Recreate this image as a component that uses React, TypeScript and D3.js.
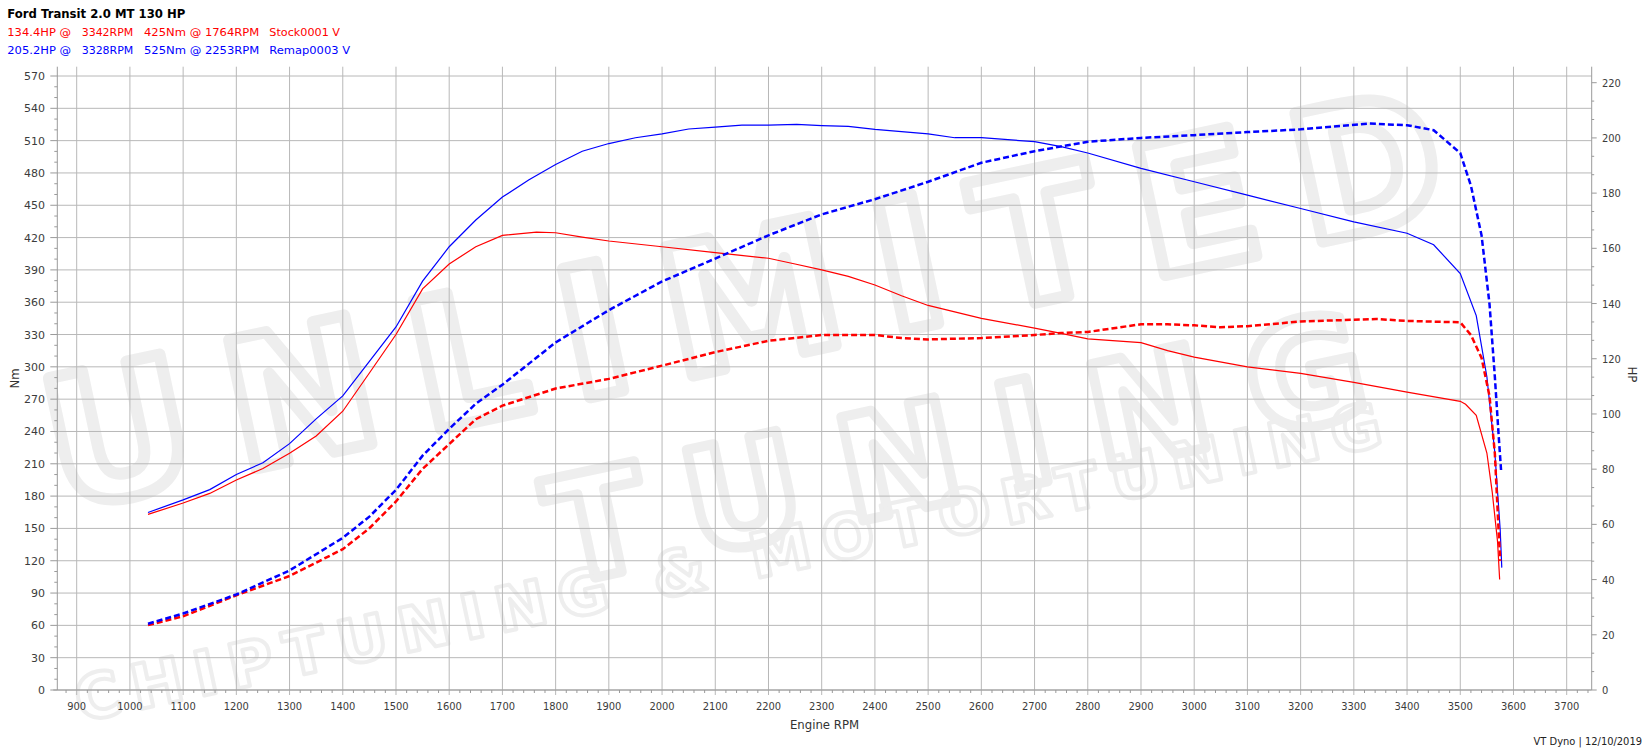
import React from 'react';
import * as d3 from 'd3';

// ---------- text ----------
const titleText = 'Ford Transit 2.0 MT 130 HP';
const stockSummary = ['134.4HP @', '3342RPM', '425Nm @ 1764RPM', 'Stock0001 V'];
const remapSummary = ['205.2HP @', '3328RPM', '525Nm @ 2253RPM', 'Remap0003 V'];
const xAxisTitle = 'Engine RPM';
const yLeftTitle = 'Nm';
const yRightTitle = 'HP';
const footerText = 'VT Dyno | 12/10/2019';
const watermarkLines = ['UNLIMITED', 'TUNING', 'CHIPTUNING & MOTORTUNING'];

// ---------- ticks ----------
const rpmTicks = [900, 1000, 1100, 1200, 1300, 1400, 1500, 1600, 1700, 1800, 1900, 2000, 2100, 2200, 2300, 2400, 2500, 2600, 2700, 2800, 2900, 3000, 3100, 3200, 3300, 3400, 3500, 3600, 3700];
const nmTicks = [0, 30, 60, 90, 120, 150, 180, 210, 240, 270, 300, 330, 360, 390, 420, 450, 480, 510, 540, 570];
const hpTicks = [0, 20, 40, 60, 80, 100, 120, 140, 160, 180, 200, 220];

// ---------- data ----------
const stockTorqueRpm = [1034, 1100, 1150, 1200, 1250, 1300, 1350, 1400, 1450, 1500, 1550, 1600, 1650, 1700, 1764, 1800, 1850, 1900, 2000, 2100, 2200, 2250, 2300, 2350, 2400, 2450, 2500, 2600, 2700, 2750, 2800, 2900, 2950, 3000, 3100, 3200, 3300, 3400, 3500, 3510, 3530, 3550, 3560, 3570, 3574];
const stockTorque = [163, 173.6, 182.5, 195, 205.6, 219.8, 235.8, 258.8, 294.3, 330, 372.4, 395.5, 411.5, 422, 425, 424.5, 420.4, 416.8, 411.5, 406, 400.8, 395.5, 390, 384, 376, 366, 357, 345, 336, 331, 326, 322.5, 315, 309, 300, 294, 285.5, 276.6, 268, 265.2, 255, 220, 184, 138, 102.6];

const stockPowerRpm = [1034, 1100, 1200, 1300, 1400, 1450, 1500, 1550, 1600, 1650, 1700, 1800, 1900, 2000, 2100, 2200, 2300, 2400, 2450, 2500, 2600, 2700, 2750, 2800, 2900, 2950, 3000, 3050, 3100, 3200, 3342, 3400, 3500, 3520, 3540, 3555, 3565, 3572, 3575];
const stockPower = [23.5, 26.7, 34.3, 41.3, 51, 58.6, 68.3, 80.1, 89.1, 98.1, 103, 109.2, 112.7, 117.5, 122.4, 126.5, 128.6, 128.6, 127.5, 127, 127.5, 128.6, 129.3, 129.7, 132.5, 132.5, 132.1, 131.4, 131.8, 133.5, 134.4, 133.7, 133.2, 128.6, 120.3, 106.4, 85.6, 57.9, 46.8];

const remapTorqueRpm = [1034, 1100, 1150, 1200, 1250, 1300, 1350, 1400, 1450, 1500, 1550, 1600, 1650, 1700, 1750, 1800, 1850, 1900, 1950, 2000, 2050, 2100, 2150, 2200, 2253, 2300, 2350, 2400, 2500, 2550, 2600, 2700, 2750, 2800, 2900, 3000, 3100, 3200, 3300, 3400, 3450, 3500, 3530, 3550, 3565, 3575, 3578];
const remapTorque = [164.8, 176.5, 186, 200, 211, 228.7, 251.7, 273, 305, 337, 379.5, 411.5, 436.3, 457.6, 473.6, 487.8, 500.2, 507.3, 512.7, 516.2, 520.8, 522.6, 524.4, 524.4, 525, 524, 523.3, 520.5, 516.2, 512.7, 512.7, 509, 504.5, 498.5, 484.3, 471.8, 459.4, 447, 434.6, 424, 413.3, 386.6, 347.6, 290.8, 220, 149, 113.6];

const remapPowerRpm = [1034, 1100, 1200, 1300, 1400, 1450, 1500, 1550, 1600, 1650, 1700, 1800, 1900, 2000, 2100, 2200, 2300, 2400, 2500, 2600, 2700, 2800, 2900, 3000, 3100, 3200, 3328, 3400, 3450, 3500, 3520, 3540, 3555, 3565, 3572, 3577];
const remapPower = [24, 27.7, 34.6, 43.3, 55.1, 62.8, 72.5, 84.9, 94.6, 103.7, 110.6, 125.9, 137.6, 148, 156.3, 164.7, 172.3, 177.8, 184.1, 191, 195.2, 198.6, 200, 201, 202.1, 203.1, 205.2, 204.6, 202.8, 194.5, 182.7, 164.7, 139.7, 113.4, 92.6, 78.7];

const RED = '#ff0000';
const BLUE = '#0000ff';

export default function App() {
  const W = 1648;
  const H = 754;
  const plotLeft = 57.3;
  const plotRight = 1591.7;
  const plotTop = 66.7;
  const plotBottom = 690;

  const x = d3.scaleLinear().domain([900, 3700]).range([76.7, 1566.7]);
  const yNm = d3.scaleLinear().domain([0, 570]).range([plotBottom, 76]);
  const yHp = d3.scaleLinear().domain([0, 220]).range([plotBottom, 82.7]);

  const rpmMin = x.invert(plotLeft);
  const rpmMax = x.invert(plotRight);
  const rpmMinor = d3.range(Math.ceil(rpmMin / 20) * 20, rpmMax, 20).filter((r) => r % 100 !== 0);
  const nmMinor = d3.range(0, 571, 10).filter((v) => v % 30 !== 0);
  const hpMinor = d3.range(0, 220, 20 / 3).filter((_, i) => i % 3 !== 0);

  const mkLine = (rpm: number[], vals: number[], ys: d3.ScaleLinear<number, number>) =>
    d3.line<number>().x((_, i) => x(rpm[i])).y((v) => ys(v))(vals) || '';

  const tickFont = "'DejaVu Sans', Verdana, sans-serif";
  const narrowFont = "'DejaVu Sans Condensed', 'Liberation Sans Narrow', 'Liberation Sans', sans-serif";
  const gridColor = '#b8b8b8';
  const axisColor = '#9a9a9a';
  const labelColor = '#3c3c3c';

  const segX = [7.3, 81.7, 144, 269.3];
  const segWStock = [63.7, 51.6, 115.3, 70.7];
  const segWRemap = [63.7, 51.6, 115.3, 80.7];

  return (
    <svg width={W} height={H} style={{ position: 'absolute', left: 0, top: 0, background: '#fff' }}>
      <rect x={0} y={0} width={W} height={H} fill="#fff" />
      {/* watermark */}
      <g fill="none" stroke="#eeeeee" fontFamily="'DejaVu Sans', sans-serif" fontWeight="bold" strokeLinejoin="round">
        <text x={60} y={510} fontSize={180} strokeWidth={12} transform="rotate(-12 60 510)" letterSpacing={38}>{watermarkLines[0]}</text>
        <text x={560} y={585} fontSize={145} strokeWidth={10} transform="rotate(-12 560 585)" letterSpacing={40}>{watermarkLines[1]}</text>
        <text x={80} y={722} fontSize={62} strokeWidth={4} transform="rotate(-12 80 722)" letterSpacing={12}>{watermarkLines[2]}</text>
      </g>

      {/* horizontal grid (Nm) */}
      {nmTicks.map((v) => (
        <line key={'hg' + v} x1={plotLeft} x2={plotRight} y1={yNm(v)} y2={yNm(v)} stroke={gridColor} strokeWidth={1} />
      ))}
      {/* vertical grid */}
      {rpmTicks.map((r) => (
        <line key={'vg' + r} x1={x(r)} x2={x(r)} y1={plotTop} y2={plotBottom + 5} stroke={gridColor} strokeWidth={1} />
      ))}

      {/* axes */}
      <line x1={plotLeft} x2={plotLeft} y1={plotTop} y2={plotBottom} stroke={axisColor} />
      <line x1={plotRight} x2={plotRight} y1={plotTop} y2={plotBottom} stroke={axisColor} />
      <line x1={plotLeft - 4} x2={plotRight} y1={plotBottom} y2={plotBottom} stroke={axisColor} />

      {/* left ticks */}
      {nmTicks.map((v) => (
        <g key={'lt' + v}>
          <line x1={plotLeft - 7} x2={plotLeft} y1={yNm(v)} y2={yNm(v)} stroke={axisColor} />
          <text x={45} y={yNm(v) + 4} textAnchor="end" fontSize={11} fontFamily={tickFont} fill={labelColor}>{v}</text>
        </g>
      ))}
      {nmMinor.map((v) => (
        <line key={'lm' + v} x1={plotLeft - 3} x2={plotLeft} y1={yNm(v)} y2={yNm(v)} stroke={axisColor} />
      ))}

      {/* right ticks */}
      {hpTicks.map((v) => (
        <g key={'rt' + v}>
          <line x1={plotRight} x2={plotRight + 5} y1={yHp(v)} y2={yHp(v)} stroke={axisColor} />
          <text x={1602} y={yHp(v) + 4} textAnchor="start" fontSize={11} fontFamily={narrowFont} fill={labelColor}>{v}</text>
        </g>
      ))}
      {hpMinor.map((v, i) => (
        <line key={'rm' + i} x1={plotRight} x2={plotRight + 2.5} y1={yHp(v)} y2={yHp(v)} stroke={axisColor} />
      ))}

      {/* bottom ticks */}
      {rpmTicks.map((r) => (
        <text key={'bt' + r} x={x(r)} y={710} textAnchor="middle" fontSize={11} fontFamily={narrowFont} fill={labelColor}>{r}</text>
      ))}
      {rpmMinor.map((r) => (
        <line key={'bm' + r} x1={x(r)} x2={x(r)} y1={plotBottom} y2={plotBottom + 3} stroke={axisColor} />
      ))}

      {/* axis titles */}
      <text x={(plotLeft + plotRight) / 2} y={729} textAnchor="middle" fontSize={13} fontFamily={narrowFont} fill="#333">{xAxisTitle}</text>
      <text transform={`translate(19, ${(plotTop + plotBottom) / 2}) rotate(-90)`} textAnchor="middle" fontSize={13} fontFamily={narrowFont} fill="#333">{yLeftTitle}</text>
      <text transform={`translate(1628, ${(plotTop + plotBottom) / 2 - 4}) rotate(90)`} textAnchor="middle" fontSize={13} fontFamily={narrowFont} fill="#333">{yRightTitle}</text>

      {/* curves */}
      <path d={mkLine(stockTorqueRpm, stockTorque, yNm)} fill="none" stroke={RED} strokeWidth={1.2} />
      <path d={mkLine(remapTorqueRpm, remapTorque, yNm)} fill="none" stroke={BLUE} strokeWidth={1.2} />
      <path d={mkLine(stockPowerRpm, stockPower, yHp)} fill="none" stroke={RED} strokeWidth={2.5} strokeDasharray="6,3" />
      <path d={mkLine(remapPowerRpm, remapPower, yHp)} fill="none" stroke={BLUE} strokeWidth={2.5} strokeDasharray="6,3" />

      {/* header */}
      <text x={7.3} y={18} fontSize={12} fontWeight="bold" fontFamily={tickFont} fill="#000" textLength={178} lengthAdjust="spacingAndGlyphs">{titleText}</text>
      {stockSummary.map((s, i) => (
        <text key={'ss' + i} x={segX[i]} y={36} fontSize={11} fontFamily={tickFont} fill={RED} textLength={segWStock[i]} lengthAdjust="spacingAndGlyphs">{s}</text>
      ))}
      {remapSummary.map((s, i) => (
        <text key={'rs' + i} x={segX[i]} y={54} fontSize={11} fontFamily={tickFont} fill={BLUE} textLength={segWRemap[i]} lengthAdjust="spacingAndGlyphs">{s}</text>
      ))}

      {/* footer */}
      <text x={1642} y={745} textAnchor="end" fontSize={11} fontFamily={narrowFont} fill="#222">{footerText}</text>
    </svg>
  );
}
